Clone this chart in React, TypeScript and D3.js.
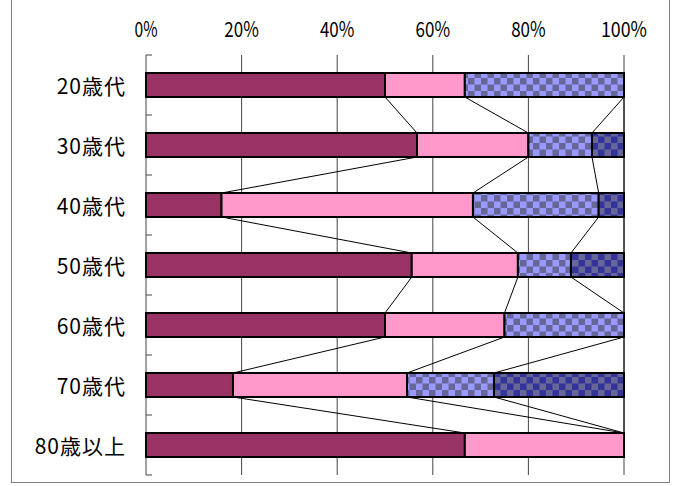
import React from "react";
import * as d3 from "d3";

const categories = ["20歳代", "30歳代", "40歳代", "50歳代", "60歳代", "70歳代", "80歳以上"];
const seriesMaroon = [50, 56.7, 15.8, 55.6, 50, 18.2, 66.7];
const seriesPink = [16.7, 23.3, 52.6, 22.2, 25, 36.4, 33.3];
const seriesLightBlue = [33.3, 13.3, 26.3, 11.1, 25, 18.2, 0];
const seriesDarkBlue = [0, 6.7, 5.3, 11.1, 0, 27.3, 0];
const xTicks = [0, 20, 40, 60, 80, 100];

const W = 679;
const H = 486;
const left = 146;
const right = 624;
const top = 55;
const bottom = 475;
const FONT = "'Noto Sans CJK JP', 'Noto Sans', sans-serif";

export default function App() {
  const x = d3.scaleLinear().domain([0, 100]).range([left, right]);
  const y = d3
    .scaleBand<string>()
    .domain(categories)
    .range([top, bottom])
    .paddingInner(0.6)
    .paddingOuter(0.3);
  const bw = y.bandwidth();
  const series = [seriesMaroon, seriesPink, seriesLightBlue, seriesDarkBlue];
  const fills = ["#993366", "#FF99CC", "url(#chkLight)", "url(#chkDark)"];

  const cum = categories.map((_, i) => {
    let acc = 0;
    return series.map((s) => {
      const start = acc;
      acc += s[i];
      return [start, Math.min(acc, 100)];
    });
  });

  const step = y.step();
  const boundaries = d3.range(categories.length + 1).map((i) => top + i * step);

  return (
    <svg width={W} height={H} style={{ position: "absolute", left: 0, top: 0, background: "#fff" }}>
      <defs>
        <pattern id="chkLight" width={13} height={13} patternUnits="userSpaceOnUse">
          <rect width={13} height={13} fill="#9999FF" />
          <rect width={6.5} height={6.5} fill="#666699" />
          <rect x={6.5} y={6.5} width={6.5} height={6.5} fill="#666699" />
        </pattern>
        <pattern id="chkDark" width={13} height={13} patternUnits="userSpaceOnUse">
          <rect width={13} height={13} fill="#333399" />
          <rect width={6.5} height={6.5} fill="#666699" />
          <rect x={6.5} y={6.5} width={6.5} height={6.5} fill="#666699" />
        </pattern>
      </defs>
      <rect x={11.5} y={-5} width={658} height={487.5} fill="#fff" stroke="#7f7f7f" strokeWidth={1} />
      {xTicks.slice(1).map((t) => (
        <line key={t} x1={x(t)} x2={x(t)} y1={top} y2={bottom} stroke="#444" strokeWidth={1} />
      ))}
      <line x1={left} x2={left} y1={top} y2={bottom} stroke="#444" strokeWidth={1} />
      {boundaries.map((b, i) => (
        <line key={i} x1={left} x2={left + 6} y1={b} y2={b} stroke="#444" strokeWidth={1} />
      ))}
      {xTicks.map((t) => {
        const label = `${t}%`;
        return (
          <text
            key={t}
            x={x(t)}
            y={28}
            textAnchor="middle"
            dominantBaseline="central"
            fontFamily={FONT}
            fontSize={21}
            textLength={label.length * 11.5}
            lengthAdjust="spacingAndGlyphs"
          >
            {label}
          </text>
        );
      })}
      {categories.map((c) => (
        <text
          key={c}
          x={126}
          y={(y(c) as number) + bw / 2}
          textAnchor="end"
          dominantBaseline="central"
          fontFamily={FONT}
          fontSize={21}
          letterSpacing={1}
        >
          {c}
        </text>
      ))}
      {series.map((_, k) =>
        categories.slice(0, -1).map((c, i) => (
          <line
            key={`sl${k}-${i}`}
            x1={x(cum[i][k][1])}
            y1={(y(c) as number) + bw}
            x2={x(cum[i + 1][k][1])}
            y2={y(categories[i + 1]) as number}
            stroke="#000"
            strokeWidth={1}
          />
        ))
      )}
      {categories.map((c, i) =>
        series.map((s, k) =>
          s[i] > 0 ? (
            <rect
              key={`b${k}-${i}`}
              x={x(cum[i][k][0])}
              y={y(c) as number}
              width={x(cum[i][k][1]) - x(cum[i][k][0])}
              height={bw}
              fill={fills[k]}
              stroke="#000"
              strokeWidth={2}
            />
          ) : null
        )
      )}
    </svg>
  );
}
